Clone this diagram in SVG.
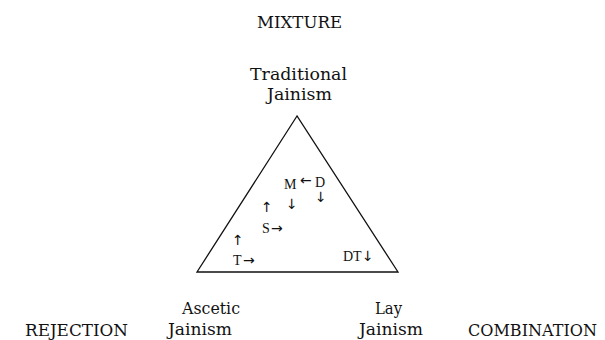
<svg xmlns="http://www.w3.org/2000/svg" width="605" height="340" viewBox="0 0 605 340">
  <style>
    .lbl { font-family: "DejaVu Serif", "Liberation Serif", serif; font-size: 16px; fill: #111; }
    .mk { font-family: "Liberation Serif", "DejaVu Serif", serif; font-size: 14px; fill: #111; }
    .ar { font-family: "DejaVu Sans", "Liberation Sans", sans-serif; font-size: 14px; fill: #111; }
    .edge { fill: none; stroke: #111; stroke-width: 1.3; stroke-linejoin: miter; }
  </style>
  <rect width="605" height="340" fill="#fff"/>
  <g id="mixture">
    <text class="lbl" x="257" y="28" textLength="85" lengthAdjust="spacingAndGlyphs">MIXTURE</text>
  </g>
  <g id="traditional-jainism">
    <text class="lbl" x="250" y="80" textLength="97" lengthAdjust="spacingAndGlyphs">Traditional</text>
    <text class="lbl" x="267" y="100" textLength="65" lengthAdjust="spacingAndGlyphs">Jainism</text>
  </g>
  <g id="ascetic-jainism">
    <text class="lbl" x="182" y="314" textLength="58" lengthAdjust="spacingAndGlyphs">Ascetic</text>
    <text class="lbl" x="168" y="335" textLength="64" lengthAdjust="spacingAndGlyphs">Jainism</text>
  </g>
  <g id="lay-jainism">
    <text class="lbl" x="375" y="314" textLength="27" lengthAdjust="spacingAndGlyphs">Lay</text>
    <text class="lbl" x="359" y="335" textLength="64" lengthAdjust="spacingAndGlyphs">Jainism</text>
  </g>
  <g id="rejection">
    <text class="lbl" x="25" y="336" textLength="103" lengthAdjust="spacingAndGlyphs">REJECTION</text>
  </g>
  <g id="combination">
    <text class="lbl" x="468" y="336" textLength="129" lengthAdjust="spacingAndGlyphs">COMBINATION</text>
  </g>
  <g id="connectors">
    <path class="edge" d="M297,116 L197,272 L398,272 Z"/>
  </g>
  <g id="marks">
    <text class="mk" x="284" y="189">M</text>
    <text class="ar" x="300" y="185">←</text>
    <text class="mk" x="315" y="187">D</text>
    <text class="ar" x="286" y="209" font-size="15">↓</text>
    <text class="ar" x="315" y="202" font-size="15">↓</text>
    <text class="ar" x="261" y="212" font-size="15">↑</text>
    <text class="mk" x="262" y="233">S</text>
    <text class="ar" x="271" y="233">→</text>
    <text class="ar" x="232" y="245" font-size="15">↑</text>
    <text class="mk" x="233" y="265">T</text>
    <text class="ar" x="243" y="265">→</text>
    <text class="mk" x="343" y="261">DT</text>
    <text class="ar" x="362" y="261" font-size="15">↓</text>
  </g>
</svg>
